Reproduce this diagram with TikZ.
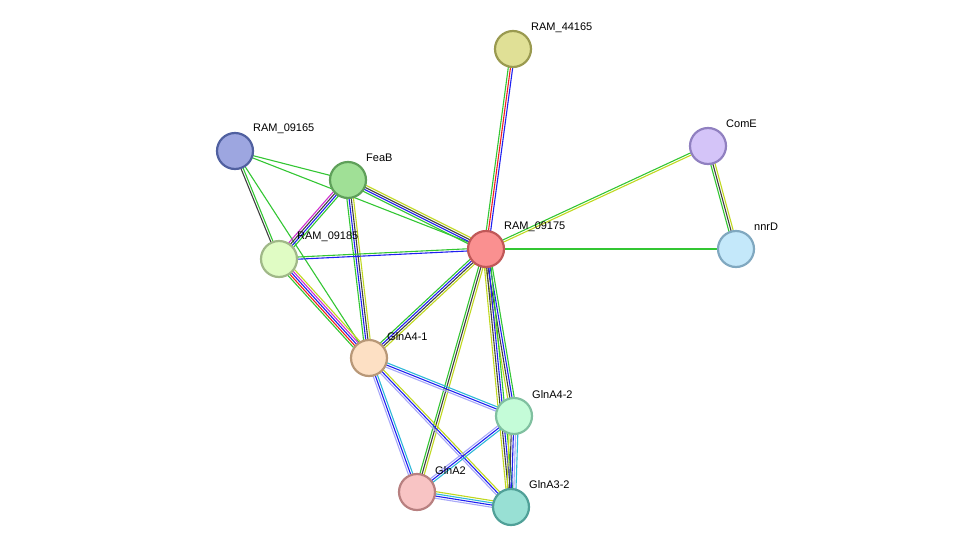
\documentclass[tikz,border=0pt]{standalone}
\usepackage{fontspec}
\setmainfont{Liberation Sans}
\usetikzlibrary{calc}
\definecolor{sg}{HTML}{33C633}
\definecolor{sr}{HTML}{F02020}
\definecolor{sb}{HTML}{2020F0}
\definecolor{sk}{HTML}{404040}
\definecolor{sm}{HTML}{D030D0}
\definecolor{sy}{HTML}{C0D820}
\definecolor{sc}{HTML}{30B8D8}
\definecolor{sl}{HTML}{A8A8F8}
\newcommand\medge[4]{%
  \foreach \ecol [count=\i] in {#4} {
    \pgfmathsetmacro\off{(\i-(#3+1)/2)*2.2}
    \draw[color=\ecol, line width=1.1pt] ($(#1)!\off pt!90:(#2)$) -- ($(#2)!\off pt!-90:(#1)$);
  }}
\tikzset{nd/.style={circle, minimum size=36pt, inner sep=0pt, line width=2.2pt},
  lb/.style={anchor=west, font=\fontsize{11}{13}\selectfont, inner sep=0pt}}
\begin{document}
\begin{tikzpicture}[x=1pt,y=-1pt]
\useasboundingbox (0,0) rectangle (975,552);
\coordinate (p44) at (513,49);
\coordinate (p65) at (235,151);
\coordinate (pfe) at (348,180);
\coordinate (pco) at (708,146);
\coordinate (p75) at (486,249);
\coordinate (pnn) at (736,249);
\coordinate (p85) at (279,259);
\coordinate (p41) at (369,358);
\coordinate (p42) at (514,416);
\coordinate (pa2) at (417,492);
\coordinate (p32) at (511,507);
\medge{p44}{p75}{3}{sg,sr,sb}
\medge{p65}{pfe}{1}{sg}
\medge{p65}{p75}{1}{sg}
\medge{p65}{p85}{2}{sk,sg}
\medge{p65}{p41}{1}{sg}
\medge{pfe}{p75}{4}{sg,sb,sk,sy}
\medge{pfe}{p85}{4}{sm,sk,sb,sg}
\medge{pfe}{p41}{4}{sg,sb,sk,sy}
\medge{p85}{p75}{2}{sb,sg}
\medge{p85}{p41}{5}{sg,sr,sb,sm,sy}
\medge{pco}{p75}{2}{sg,sy}
\medge{pco}{pnn}{3}{sg,sk,sy}
\medge{p75}{pnn}{1}{sg}
\medge{p75}{p41}{4}{sg,sb,sk,sy}
\medge{p75}{pa2}{3}{sg,sk,sy}
\medge{p75}{p42}{4}{sy,sk,sb,sg}
\medge{p75}{p32}{4}{sy,sk,sb,sg}
\medge{p41}{p42}{3}{sl,sb,sc}
\medge{p41}{p32}{3}{sl,sb,sy}
\medge{p41}{pa2}{3}{sl,sb,sc}
\medge{p42}{pa2}{3}{sl,sb,sc}
\medge{p42}{p32}{5}{sy,sk,sb,sl,sc}
\medge{pa2}{p32}{4}{sl,sb,sc,sy}
\node[nd, fill={rgb,255:red,224;green,224;blue,150}, draw={rgb,255:red,154;green,154;blue,80}] (n44) at (p44) {};
\node[nd, fill={rgb,255:red,157;green,166;blue,224}, draw={rgb,255:red,80;green,96;blue,160}] (n65) at (p65) {};
\node[nd, fill={rgb,255:red,160;green,224;blue,150}, draw={rgb,255:red,95;green,160;blue,90}] (nfe) at (pfe) {};
\node[nd, fill={rgb,255:red,212;green,196;blue,248}, draw={rgb,255:red,144;green,128;blue,192}] (nco) at (pco) {};
\node[nd, fill={rgb,255:red,250;green,144;blue,144}, draw={rgb,255:red,192;green,88;blue,88}] (n75) at (p75) {};
\node[nd, fill={rgb,255:red,196;green,232;blue,250}, draw={rgb,255:red,128;green,168;blue,192}] (nnn) at (pnn) {};
\node[nd, fill={rgb,255:red,224;green,252;blue,196}, draw={rgb,255:red,160;green,184;blue,136}] (n85) at (p85) {};
\node[nd, fill={rgb,255:red,253;green,224;blue,196}, draw={rgb,255:red,184;green,152;blue,120}] (n41) at (p41) {};
\node[nd, fill={rgb,255:red,196;green,252;blue,216}, draw={rgb,255:red,128;green,192;blue,160}] (n42) at (p42) {};
\node[nd, fill={rgb,255:red,248;green,196;blue,196}, draw={rgb,255:red,184;green,128;blue,128}] (na2) at (pa2) {};
\node[nd, fill={rgb,255:red,152;green,224;blue,212}, draw={rgb,255:red,80;green,160;blue,152}] (n32) at (p32) {};
\node[lb] (t44) at (531,28) {RAM\_44165};
\node[lb] (t65) at (253,129) {RAM\_09165};
\node[lb] (tfe) at (366,158) {FeaB};
\node[lb] (tco) at (726,124) {ComE};
\node[lb] (t75) at (504,227) {RAM\_09175};
\node[lb] (tnn) at (754,227) {nnrD};
\node[lb] (t85) at (297,237) {RAM\_09185};
\node[lb] (t41) at (387,337) {GlnA4-1};
\node[lb] (t42) at (532,395) {GlnA4-2};
\node[lb] (ta2) at (435,471) {GlnA2};
\node[lb] (t32) at (529,485) {GlnA3-2};
\end{tikzpicture}
\end{document}
